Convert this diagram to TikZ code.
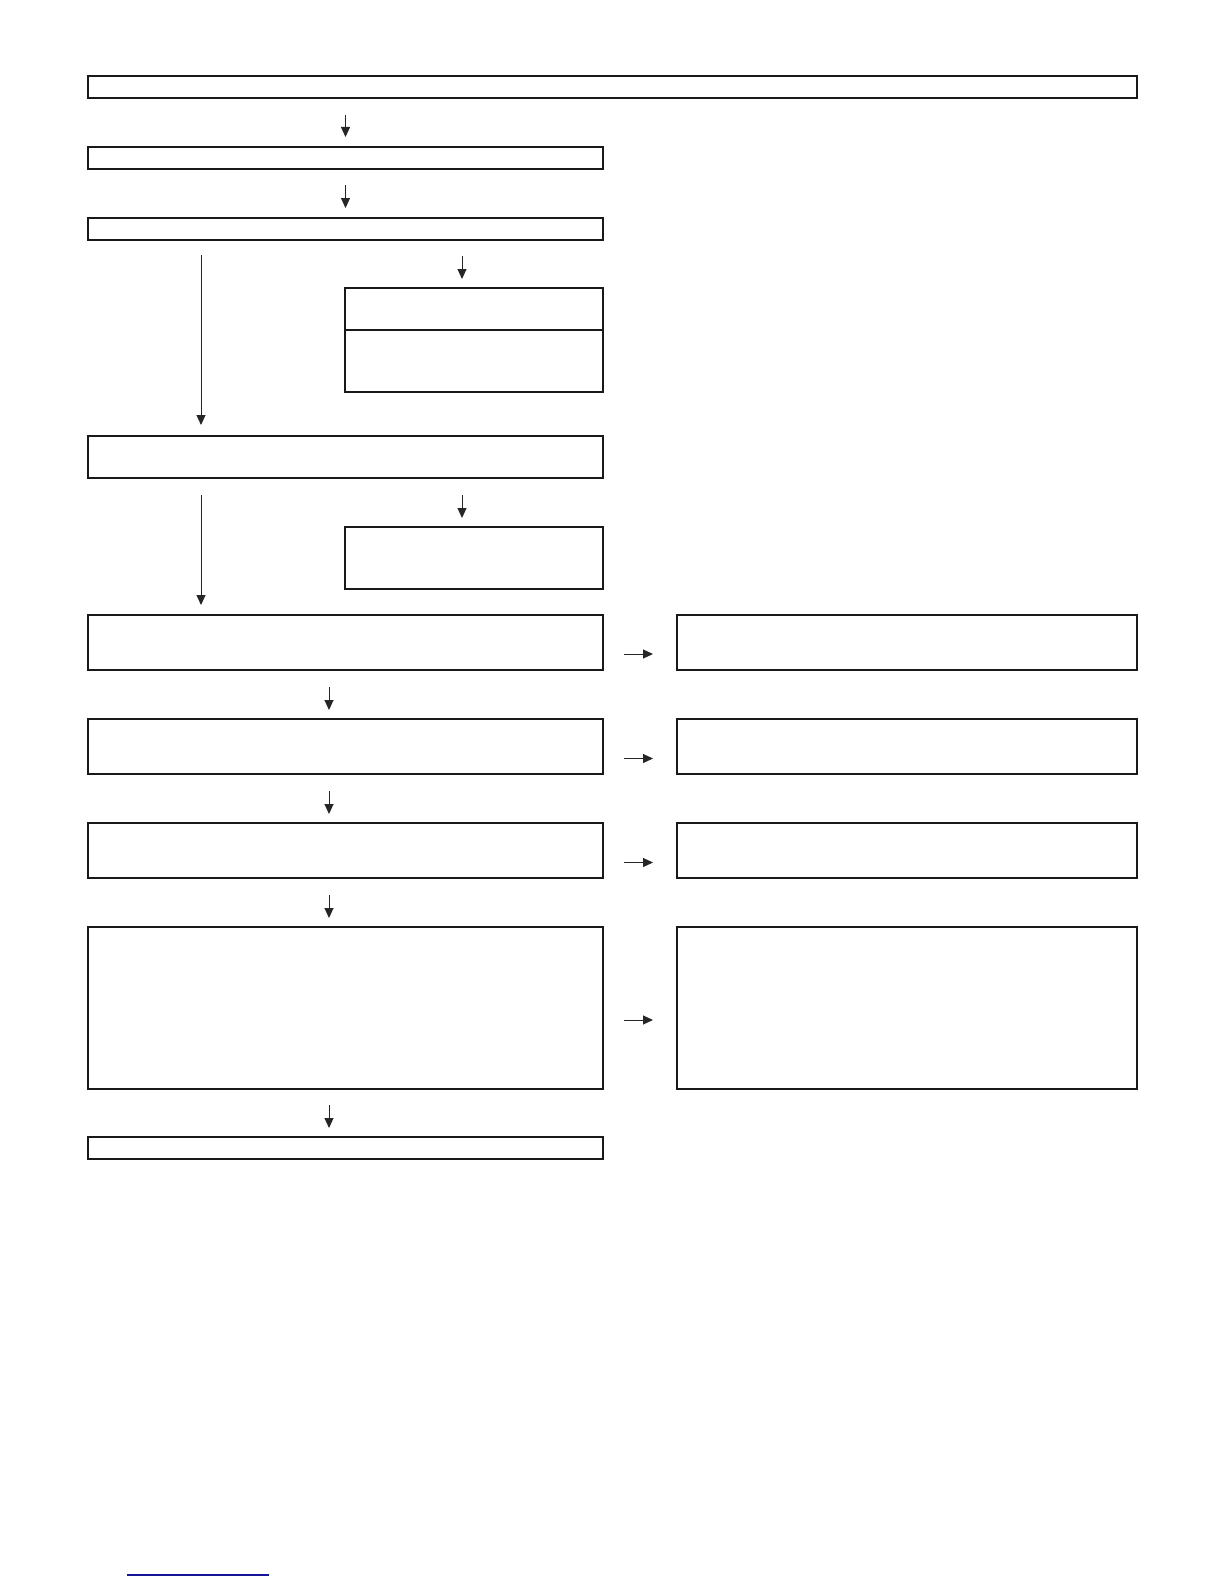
\documentclass[tikz,border=0pt]{standalone}
\usetikzlibrary{arrows.meta}
\definecolor{linkblue}{RGB}{20,20,150}
\begin{document}
\begin{tikzpicture}[x=1pt,y=-1pt,
  box/.style={draw=black!90,line width=1.05pt,inner sep=0pt,outer sep=0pt,anchor=north west},
  arr/.style={draw=black!85,line width=1pt,-{Triangle[length=10pt,width=9pt]}}]
\useasboundingbox (0,0) rectangle (1224,1584);
% left column boxes
\node[box,minimum width=1049pt,minimum height=22pt] (B0) at (88,76) {};
\node[box,minimum width=515pt,minimum height=22pt] (B1) at (88,147) {};
\node[box,minimum width=515pt,minimum height=22pt] (B2) at (88,218) {};
\node[box,minimum width=258pt,minimum height=42pt] (B3a) at (345,288) {};
\node[box,minimum width=258pt,minimum height=62pt] (B3b) at (345,330) {};
\node[box,minimum width=515pt,minimum height=42pt] (B4) at (88,436) {};
\node[box,minimum width=258pt,minimum height=62pt] (B5) at (345,527) {};
\node[box,minimum width=515pt,minimum height=55pt] (B6) at (88,615) {};
\node[box,minimum width=515pt,minimum height=55pt] (B7) at (88,719) {};
\node[box,minimum width=515pt,minimum height=55pt] (B8) at (88,823) {};
\node[box,minimum width=515pt,minimum height=162pt] (B9) at (88,927) {};
\node[box,minimum width=515pt,minimum height=22pt] (B10) at (88,1137) {};
% right column boxes
\node[box,minimum width=460pt,minimum height=55pt] (R6) at (677,615) {};
\node[box,minimum width=460pt,minimum height=55pt] (R7) at (677,719) {};
\node[box,minimum width=460pt,minimum height=55pt] (R8) at (677,823) {};
\node[box,minimum width=460pt,minimum height=162pt] (R9) at (677,927) {};
% vertical connectors
\draw[arr,shorten <=17pt,shorten >=10pt] (B0.south -| B1.north) -- (B1.north);
\draw[arr,shorten <=16pt,shorten >=10pt] (B1.south) -- (B2.north);
\draw[arr,shorten <=16pt,shorten >=9pt] ([xshift=-12pt]B3a.north |- B2.south) -- ([xshift=-12pt]B3a.north);
\draw[arr,shorten <=15pt,shorten >=11pt] ([xshift=-144.5pt]B2.south) -- ([xshift=-144.5pt]B4.north);
\draw[arr,shorten <=17pt,shorten >=9pt] ([xshift=-12pt]B5.north |- B4.south) -- ([xshift=-12pt]B5.north);
\draw[arr,shorten <=17pt,shorten >=10pt] ([xshift=-144.5pt]B4.south) -- ([xshift=-144.5pt]B6.north);
\draw[arr,shorten <=17pt,shorten >=9pt] ([xshift=-16.5pt]B6.south) -- ([xshift=-16.5pt]B7.north);
\draw[arr,shorten <=17pt,shorten >=9pt] ([xshift=-16.5pt]B7.south) -- ([xshift=-16.5pt]B8.north);
\draw[arr,shorten <=17pt,shorten >=9pt] ([xshift=-16.5pt]B8.south) -- ([xshift=-16.5pt]B9.north);
\draw[arr,shorten <=16pt,shorten >=9pt] ([xshift=-16.5pt]B9.south) -- ([xshift=-16.5pt]B10.north);
% horizontal connectors
\draw[arr,shorten <=21pt,shorten >=24pt] ([yshift=-11.5pt]B6.east) -- ([yshift=-11.5pt]R6.west);
\draw[arr,shorten <=21pt,shorten >=24pt] ([yshift=-12pt]B7.east) -- ([yshift=-12pt]R7.west);
\draw[arr,shorten <=21pt,shorten >=24pt] ([yshift=-12pt]B8.east) -- ([yshift=-12pt]R8.west);
\draw[arr,shorten <=21pt,shorten >=24pt] ([yshift=-12pt]B9.east) -- ([yshift=-12pt]R9.west);
% link underline at page foot
\coordinate (L1) at (127,1575);
\coordinate (L2) at (269,1575);
\draw[linkblue,line width=1.3pt] (L1) -- (L2);
\end{tikzpicture}
\end{document}
